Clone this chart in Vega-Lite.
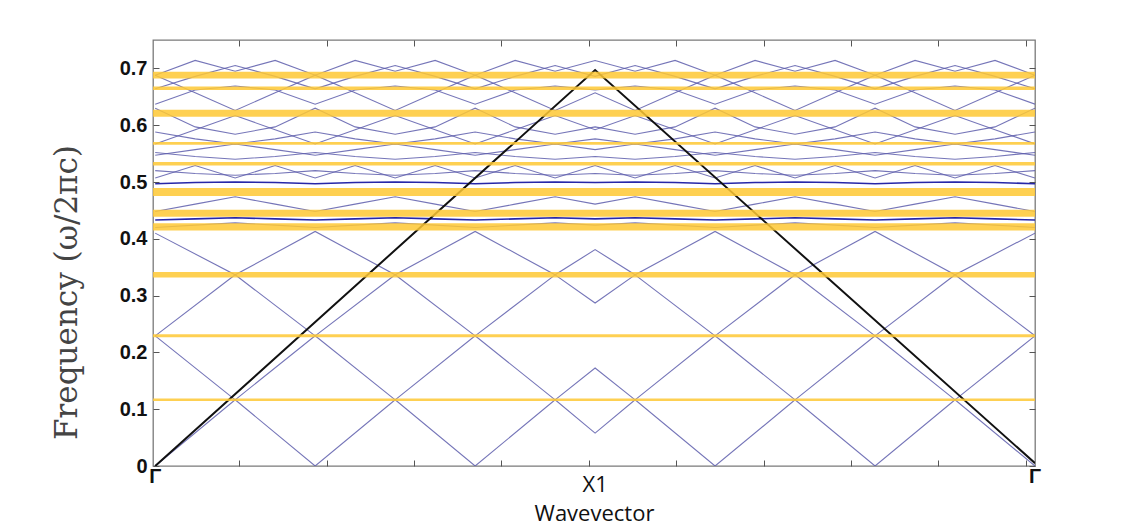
{
  "$schema": "https://vega.github.io/schema/vega-lite/v6.json",
  "width": 882,
  "height": 426,
  "autosize": {"type": "none"},
  "padding": {"left": 153, "top": 40, "right": 91, "bottom": 61},
  "background": "white",
  "config": {"view": {"stroke": "#7a7a7a", "strokeWidth": 1.3}},
  "datasets": {
    "low": [
      {"b":"b1","x":0,"y":0},{"b":"b1","x":0.1818,"y":0.1165},{"b":"b1","x":0.3636,"y":0},{"b":"b1","x":0.5455,"y":0.1165},{"b":"b1","x":0.7273,"y":0},{"b":"b1","x":0.9091,"y":0.1165},{"b":"b1","x":1,"y":0.058},{"b":"b1","x":1.0909,"y":0.1165},{"b":"b1","x":1.2727,"y":0},{"b":"b1","x":1.4545,"y":0.1165},{"b":"b1","x":1.6364,"y":0},{"b":"b1","x":1.8182,"y":0.1165},{"b":"b1","x":2,"y":0},
      {"b":"b2","x":0,"y":0.2292},{"b":"b2","x":0.1818,"y":0.1165},{"b":"b2","x":0.3636,"y":0.2292},{"b":"b2","x":0.5455,"y":0.1165},{"b":"b2","x":0.7273,"y":0.2292},{"b":"b2","x":0.9091,"y":0.1165},{"b":"b2","x":1,"y":0.1725},{"b":"b2","x":1.0909,"y":0.1165},{"b":"b2","x":1.2727,"y":0.2292},{"b":"b2","x":1.4545,"y":0.1165},{"b":"b2","x":1.6364,"y":0.2292},{"b":"b2","x":1.8182,"y":0.1165},{"b":"b2","x":2,"y":0.2292},
      {"b":"b3","x":0,"y":0.2292},{"b":"b3","x":0.1818,"y":0.3366},{"b":"b3","x":0.3636,"y":0.2292},{"b":"b3","x":0.5455,"y":0.3366},{"b":"b3","x":0.7273,"y":0.2292},{"b":"b3","x":0.9091,"y":0.3366},{"b":"b3","x":1,"y":0.287},{"b":"b3","x":1.0909,"y":0.3366},{"b":"b3","x":1.2727,"y":0.2292},{"b":"b3","x":1.4545,"y":0.3366},{"b":"b3","x":1.6364,"y":0.2292},{"b":"b3","x":1.8182,"y":0.3366},{"b":"b3","x":2,"y":0.2292},
      {"b":"b4","x":0,"y":0.41},{"b":"b4","x":0.1818,"y":0.3366},{"b":"b4","x":0.3636,"y":0.413},{"b":"b4","x":0.5455,"y":0.3366},{"b":"b4","x":0.7273,"y":0.413},{"b":"b4","x":0.9091,"y":0.3366},{"b":"b4","x":1,"y":0.381},{"b":"b4","x":1.0909,"y":0.3366},{"b":"b4","x":1.2727,"y":0.413},{"b":"b4","x":1.4545,"y":0.3366},{"b":"b4","x":1.6364,"y":0.413},{"b":"b4","x":1.8182,"y":0.3366},{"b":"b4","x":2,"y":0.41}
    ],
    "up": [
      {"b":"T","x":0,"y":0.688},{"b":"T","x":0.0909,"y":0.714},{"b":"T","x":0.1818,"y":0.695},{"b":"T","x":0.2727,"y":0.714},{"b":"T","x":0.3636,"y":0.688},{"b":"T","x":0.4545,"y":0.714},{"b":"T","x":0.5455,"y":0.695},{"b":"T","x":0.6364,"y":0.714},{"b":"T","x":0.7273,"y":0.688},{"b":"T","x":0.8182,"y":0.714},{"b":"T","x":0.9091,"y":0.695},{"b":"T","x":1,"y":0.714},{"b":"T","x":1.0909,"y":0.695},{"b":"T","x":1.1818,"y":0.714},{"b":"T","x":1.2727,"y":0.688},{"b":"T","x":1.3636,"y":0.714},{"b":"T","x":1.4545,"y":0.695},{"b":"T","x":1.5455,"y":0.714},{"b":"T","x":1.6364,"y":0.688},{"b":"T","x":1.7273,"y":0.714},{"b":"T","x":1.8182,"y":0.695},{"b":"T","x":1.9091,"y":0.714},{"b":"T","x":2,"y":0.688},
      {"b":"H1","x":0,"y":0.664},{"b":"H1","x":0.0909,"y":0.686},{"b":"H1","x":0.1818,"y":0.705},{"b":"H1","x":0.2727,"y":0.686},{"b":"H1","x":0.3636,"y":0.664},{"b":"H1","x":0.4545,"y":0.686},{"b":"H1","x":0.5455,"y":0.705},{"b":"H1","x":0.6364,"y":0.686},{"b":"H1","x":0.7273,"y":0.664},{"b":"H1","x":0.8182,"y":0.686},{"b":"H1","x":0.9091,"y":0.705},{"b":"H1","x":1,"y":0.686},{"b":"H1","x":1.0909,"y":0.705},{"b":"H1","x":1.1818,"y":0.686},{"b":"H1","x":1.2727,"y":0.664},{"b":"H1","x":1.3636,"y":0.686},{"b":"H1","x":1.4545,"y":0.705},{"b":"H1","x":1.5455,"y":0.686},{"b":"H1","x":1.6364,"y":0.664},{"b":"H1","x":1.7273,"y":0.686},{"b":"H1","x":1.8182,"y":0.705},{"b":"H1","x":1.9091,"y":0.686},{"b":"H1","x":2,"y":0.664},
      {"b":"U1","x":0,"y":0.637},{"b":"U1","x":0.0909,"y":0.662},{"b":"U1","x":0.1818,"y":0.669},{"b":"U1","x":0.2727,"y":0.662},{"b":"U1","x":0.3636,"y":0.637},{"b":"U1","x":0.4545,"y":0.662},{"b":"U1","x":0.5455,"y":0.669},{"b":"U1","x":0.6364,"y":0.662},{"b":"U1","x":0.7273,"y":0.637},{"b":"U1","x":0.8182,"y":0.662},{"b":"U1","x":0.9091,"y":0.669},{"b":"U1","x":1,"y":0.662},{"b":"U1","x":1.0909,"y":0.669},{"b":"U1","x":1.1818,"y":0.662},{"b":"U1","x":1.2727,"y":0.637},{"b":"U1","x":1.3636,"y":0.662},{"b":"U1","x":1.4545,"y":0.669},{"b":"U1","x":1.5455,"y":0.662},{"b":"U1","x":1.6364,"y":0.637},{"b":"U1","x":1.7273,"y":0.662},{"b":"U1","x":1.8182,"y":0.669},{"b":"U1","x":1.9091,"y":0.662},{"b":"U1","x":2,"y":0.637},
      {"b":"U2","x":0,"y":0.688},{"b":"U2","x":0.0909,"y":0.657},{"b":"U2","x":0.1818,"y":0.626},{"b":"U2","x":0.2727,"y":0.657},{"b":"U2","x":0.3636,"y":0.688},{"b":"U2","x":0.4545,"y":0.657},{"b":"U2","x":0.5455,"y":0.626},{"b":"U2","x":0.6364,"y":0.657},{"b":"U2","x":0.7273,"y":0.688},{"b":"U2","x":0.8182,"y":0.657},{"b":"U2","x":0.9091,"y":0.626},{"b":"U2","x":1,"y":0.657},{"b":"U2","x":1.0909,"y":0.626},{"b":"U2","x":1.1818,"y":0.657},{"b":"U2","x":1.2727,"y":0.688},{"b":"U2","x":1.3636,"y":0.657},{"b":"U2","x":1.4545,"y":0.626},{"b":"U2","x":1.5455,"y":0.657},{"b":"U2","x":1.6364,"y":0.688},{"b":"U2","x":1.7273,"y":0.657},{"b":"U2","x":1.8182,"y":0.626},{"b":"U2","x":1.9091,"y":0.657},{"b":"U2","x":2,"y":0.688},
      {"b":"U3","x":0,"y":0.63},{"b":"U3","x":0.0909,"y":0.597},{"b":"U3","x":0.1818,"y":0.584},{"b":"U3","x":0.2727,"y":0.597},{"b":"U3","x":0.3636,"y":0.63},{"b":"U3","x":0.4545,"y":0.597},{"b":"U3","x":0.5455,"y":0.584},{"b":"U3","x":0.6364,"y":0.597},{"b":"U3","x":0.7273,"y":0.63},{"b":"U3","x":0.8182,"y":0.597},{"b":"U3","x":0.9091,"y":0.584},{"b":"U3","x":1,"y":0.597},{"b":"U3","x":1.0909,"y":0.584},{"b":"U3","x":1.1818,"y":0.597},{"b":"U3","x":1.2727,"y":0.63},{"b":"U3","x":1.3636,"y":0.597},{"b":"U3","x":1.4545,"y":0.584},{"b":"U3","x":1.5455,"y":0.597},{"b":"U3","x":1.6364,"y":0.63},{"b":"U3","x":1.7273,"y":0.597},{"b":"U3","x":1.8182,"y":0.584},{"b":"U3","x":1.9091,"y":0.597},{"b":"U3","x":2,"y":0.63},
      {"b":"U5","x":0,"y":0.567},{"b":"U5","x":0.0909,"y":0.592},{"b":"U5","x":0.1818,"y":0.617},{"b":"U5","x":0.2727,"y":0.592},{"b":"U5","x":0.3636,"y":0.567},{"b":"U5","x":0.4545,"y":0.592},{"b":"U5","x":0.5455,"y":0.617},{"b":"U5","x":0.6364,"y":0.592},{"b":"U5","x":0.7273,"y":0.567},{"b":"U5","x":0.8182,"y":0.592},{"b":"U5","x":0.9091,"y":0.617},{"b":"U5","x":1,"y":0.592},{"b":"U5","x":1.0909,"y":0.617},{"b":"U5","x":1.1818,"y":0.592},{"b":"U5","x":1.2727,"y":0.567},{"b":"U5","x":1.3636,"y":0.592},{"b":"U5","x":1.4545,"y":0.617},{"b":"U5","x":1.5455,"y":0.592},{"b":"U5","x":1.6364,"y":0.567},{"b":"U5","x":1.7273,"y":0.592},{"b":"U5","x":1.8182,"y":0.617},{"b":"U5","x":1.9091,"y":0.592},{"b":"U5","x":2,"y":0.567},
      {"b":"U7","x":0,"y":0.588},{"b":"U7","x":0.0909,"y":0.576},{"b":"U7","x":0.1818,"y":0.567},{"b":"U7","x":0.2727,"y":0.576},{"b":"U7","x":0.3636,"y":0.588},{"b":"U7","x":0.4545,"y":0.576},{"b":"U7","x":0.5455,"y":0.567},{"b":"U7","x":0.6364,"y":0.576},{"b":"U7","x":0.7273,"y":0.588},{"b":"U7","x":0.8182,"y":0.576},{"b":"U7","x":0.9091,"y":0.567},{"b":"U7","x":1,"y":0.576},{"b":"U7","x":1.0909,"y":0.567},{"b":"U7","x":1.1818,"y":0.576},{"b":"U7","x":1.2727,"y":0.588},{"b":"U7","x":1.3636,"y":0.576},{"b":"U7","x":1.4545,"y":0.567},{"b":"U7","x":1.5455,"y":0.576},{"b":"U7","x":1.6364,"y":0.588},{"b":"U7","x":1.7273,"y":0.576},{"b":"U7","x":1.8182,"y":0.567},{"b":"U7","x":1.9091,"y":0.576},{"b":"U7","x":2,"y":0.588},
      {"b":"U6","x":0,"y":0.547},{"b":"U6","x":0.0909,"y":0.557},{"b":"U6","x":0.1818,"y":0.567},{"b":"U6","x":0.2727,"y":0.557},{"b":"U6","x":0.3636,"y":0.547},{"b":"U6","x":0.4545,"y":0.557},{"b":"U6","x":0.5455,"y":0.567},{"b":"U6","x":0.6364,"y":0.557},{"b":"U6","x":0.7273,"y":0.547},{"b":"U6","x":0.8182,"y":0.557},{"b":"U6","x":0.9091,"y":0.567},{"b":"U6","x":1,"y":0.557},{"b":"U6","x":1.0909,"y":0.567},{"b":"U6","x":1.1818,"y":0.557},{"b":"U6","x":1.2727,"y":0.547},{"b":"U6","x":1.3636,"y":0.557},{"b":"U6","x":1.4545,"y":0.567},{"b":"U6","x":1.5455,"y":0.557},{"b":"U6","x":1.6364,"y":0.547},{"b":"U6","x":1.7273,"y":0.557},{"b":"U6","x":1.8182,"y":0.567},{"b":"U6","x":1.9091,"y":0.557},{"b":"U6","x":2,"y":0.547},
      {"b":"W4","x":0,"y":0.552},{"b":"W4","x":0.0909,"y":0.545},{"b":"W4","x":0.1818,"y":0.54},{"b":"W4","x":0.2727,"y":0.545},{"b":"W4","x":0.3636,"y":0.552},{"b":"W4","x":0.4545,"y":0.545},{"b":"W4","x":0.5455,"y":0.54},{"b":"W4","x":0.6364,"y":0.545},{"b":"W4","x":0.7273,"y":0.552},{"b":"W4","x":0.8182,"y":0.545},{"b":"W4","x":0.9091,"y":0.54},{"b":"W4","x":1,"y":0.545},{"b":"W4","x":1.0909,"y":0.54},{"b":"W4","x":1.1818,"y":0.545},{"b":"W4","x":1.2727,"y":0.552},{"b":"W4","x":1.3636,"y":0.545},{"b":"W4","x":1.4545,"y":0.54},{"b":"W4","x":1.5455,"y":0.545},{"b":"W4","x":1.6364,"y":0.552},{"b":"W4","x":1.7273,"y":0.545},{"b":"W4","x":1.8182,"y":0.54},{"b":"W4","x":1.9091,"y":0.545},{"b":"W4","x":2,"y":0.552},
      {"b":"W2","x":0,"y":0.507},{"b":"W2","x":0.0909,"y":0.529},{"b":"W2","x":0.1818,"y":0.507},{"b":"W2","x":0.2727,"y":0.529},{"b":"W2","x":0.3636,"y":0.507},{"b":"W2","x":0.4545,"y":0.529},{"b":"W2","x":0.5455,"y":0.507},{"b":"W2","x":0.6364,"y":0.529},{"b":"W2","x":0.7273,"y":0.507},{"b":"W2","x":0.8182,"y":0.529},{"b":"W2","x":0.9091,"y":0.507},{"b":"W2","x":1,"y":0.529},{"b":"W2","x":1.0909,"y":0.507},{"b":"W2","x":1.1818,"y":0.529},{"b":"W2","x":1.2727,"y":0.507},{"b":"W2","x":1.3636,"y":0.529},{"b":"W2","x":1.4545,"y":0.507},{"b":"W2","x":1.5455,"y":0.529},{"b":"W2","x":1.6364,"y":0.507},{"b":"W2","x":1.7273,"y":0.529},{"b":"W2","x":1.8182,"y":0.507},{"b":"W2","x":1.9091,"y":0.529},{"b":"W2","x":2,"y":0.507},
      {"b":"W5","x":0,"y":0.52},{"b":"W5","x":0.0909,"y":0.515},{"b":"W5","x":0.1818,"y":0.512},{"b":"W5","x":0.2727,"y":0.515},{"b":"W5","x":0.3636,"y":0.52},{"b":"W5","x":0.4545,"y":0.515},{"b":"W5","x":0.5455,"y":0.512},{"b":"W5","x":0.6364,"y":0.515},{"b":"W5","x":0.7273,"y":0.52},{"b":"W5","x":0.8182,"y":0.515},{"b":"W5","x":0.9091,"y":0.512},{"b":"W5","x":1,"y":0.515},{"b":"W5","x":1.0909,"y":0.512},{"b":"W5","x":1.1818,"y":0.515},{"b":"W5","x":1.2727,"y":0.52},{"b":"W5","x":1.3636,"y":0.515},{"b":"W5","x":1.4545,"y":0.512},{"b":"W5","x":1.5455,"y":0.515},{"b":"W5","x":1.6364,"y":0.52},{"b":"W5","x":1.7273,"y":0.515},{"b":"W5","x":1.8182,"y":0.512},{"b":"W5","x":1.9091,"y":0.515},{"b":"W5","x":2,"y":0.52},
      {"b":"W1","x":0,"y":0.448},{"b":"W1","x":0.0909,"y":0.461},{"b":"W1","x":0.1818,"y":0.474},{"b":"W1","x":0.2727,"y":0.461},{"b":"W1","x":0.3636,"y":0.448},{"b":"W1","x":0.4545,"y":0.461},{"b":"W1","x":0.5455,"y":0.474},{"b":"W1","x":0.6364,"y":0.461},{"b":"W1","x":0.7273,"y":0.448},{"b":"W1","x":0.8182,"y":0.461},{"b":"W1","x":0.9091,"y":0.474},{"b":"W1","x":1,"y":0.461},{"b":"W1","x":1.0909,"y":0.474},{"b":"W1","x":1.1818,"y":0.461},{"b":"W1","x":1.2727,"y":0.448},{"b":"W1","x":1.3636,"y":0.461},{"b":"W1","x":1.4545,"y":0.474},{"b":"W1","x":1.5455,"y":0.461},{"b":"W1","x":1.6364,"y":0.448},{"b":"W1","x":1.7273,"y":0.461},{"b":"W1","x":1.8182,"y":0.474},{"b":"W1","x":1.9091,"y":0.461},{"b":"W1","x":2,"y":0.448},
      {"b":"B5","x":0,"y":0.42},{"b":"B5","x":0.0909,"y":0.424},{"b":"B5","x":0.1818,"y":0.428},{"b":"B5","x":0.2727,"y":0.424},{"b":"B5","x":0.3636,"y":0.42},{"b":"B5","x":0.4545,"y":0.424},{"b":"B5","x":0.5455,"y":0.428},{"b":"B5","x":0.6364,"y":0.424},{"b":"B5","x":0.7273,"y":0.42},{"b":"B5","x":0.8182,"y":0.424},{"b":"B5","x":0.9091,"y":0.428},{"b":"B5","x":1,"y":0.424},{"b":"B5","x":1.0909,"y":0.428},{"b":"B5","x":1.1818,"y":0.424},{"b":"B5","x":1.2727,"y":0.42},{"b":"B5","x":1.3636,"y":0.424},{"b":"B5","x":1.4545,"y":0.428},{"b":"B5","x":1.5455,"y":0.424},{"b":"B5","x":1.6364,"y":0.42},{"b":"B5","x":1.7273,"y":0.424},{"b":"B5","x":1.8182,"y":0.428},{"b":"B5","x":1.9091,"y":0.424},{"b":"B5","x":2,"y":0.42}
    ],
    "dark": [
      {"b":"D2","x":0,"y":0.497},{"b":"D2","x":0.0909,"y":0.499},{"b":"D2","x":0.1818,"y":0.5},{"b":"D2","x":0.2727,"y":0.499},{"b":"D2","x":0.3636,"y":0.497},{"b":"D2","x":0.4545,"y":0.499},{"b":"D2","x":0.5455,"y":0.5},{"b":"D2","x":0.6364,"y":0.499},{"b":"D2","x":0.7273,"y":0.497},{"b":"D2","x":0.8182,"y":0.499},{"b":"D2","x":0.9091,"y":0.5},{"b":"D2","x":1,"y":0.499},{"b":"D2","x":1.0909,"y":0.5},{"b":"D2","x":1.1818,"y":0.499},{"b":"D2","x":1.2727,"y":0.497},{"b":"D2","x":1.3636,"y":0.499},{"b":"D2","x":1.4545,"y":0.5},{"b":"D2","x":1.5455,"y":0.499},{"b":"D2","x":1.6364,"y":0.497},{"b":"D2","x":1.7273,"y":0.499},{"b":"D2","x":1.8182,"y":0.5},{"b":"D2","x":1.9091,"y":0.499},{"b":"D2","x":2,"y":0.497},
      {"b":"D1","x":0,"y":0.433},{"b":"D1","x":0.0909,"y":0.435},{"b":"D1","x":0.1818,"y":0.437},{"b":"D1","x":0.2727,"y":0.435},{"b":"D1","x":0.3636,"y":0.433},{"b":"D1","x":0.4545,"y":0.435},{"b":"D1","x":0.5455,"y":0.437},{"b":"D1","x":0.6364,"y":0.435},{"b":"D1","x":0.7273,"y":0.433},{"b":"D1","x":0.8182,"y":0.435},{"b":"D1","x":0.9091,"y":0.437},{"b":"D1","x":1,"y":0.435},{"b":"D1","x":1.0909,"y":0.437},{"b":"D1","x":1.1818,"y":0.435},{"b":"D1","x":1.2727,"y":0.433},{"b":"D1","x":1.3636,"y":0.435},{"b":"D1","x":1.4545,"y":0.437},{"b":"D1","x":1.5455,"y":0.435},{"b":"D1","x":1.6364,"y":0.433},{"b":"D1","x":1.7273,"y":0.435},{"b":"D1","x":1.8182,"y":0.437},{"b":"D1","x":1.9091,"y":0.435},{"b":"D1","x":2,"y":0.433}
    ],
    "lightline": [
      {"x":0,"y":0},{"x":1,"y":0.697},{"x":2,"y":0.005}
    ],
    "gaps": [
      {"lo":0.6821,"hi":0.6939},
      {"lo":0.6619,"hi":0.6681},
      {"lo":0.6148,"hi":0.6272},
      {"lo":0.5654,"hi":0.5706},
      {"lo":0.5289,"hi":0.5351},
      {"lo":0.4754,"hi":0.4894},
      {"lo":0.4388,"hi":0.4512},
      {"lo":0.4145,"hi":0.4275},
      {"lo":0.3318,"hi":0.3414},
      {"lo":0.2266,"hi":0.2318},
      {"lo":0.1143,"hi":0.1187}
    ],
    "gam": [
      {"x":0,"lab":"Γ"},{"x":2,"lab":"Γ"}
    ],
    "xl": [
      {"x":1,"lab":"X1"}
    ]
  },
  "resolve": {"axis": {"x": "independent", "y": "independent"}},
  "layer": [
    {
      "data": {"name": "low"},
      "mark": {"type": "line", "stroke": "#5d5dab", "strokeWidth": 1.1, "opacity": 0.85, "clip": true},
      "encoding": {
        "x": {"field": "x", "type": "quantitative",
              "scale": {"domain": [-0.005, 2.0], "nice": false, "zero": false},
              "axis": {"values": [0.191,0.39,0.588,0.787,0.986,1.184,1.383,1.581,1.78,1.979],
                       "labels": false, "domain": false, "grid": false, "tickSize": -6, "tickColor": "#555",
                       "title": "Wavevector", "titleFont": "Open Sans", "titleFontSize": 22, "titleFontWeight": "normal",
                       "titleColor": "#111", "titleY": 54, "titleBaseline": "alphabetic"}},
        "y": {"field": "y", "type": "quantitative",
              "scale": {"domain": [0, 0.75], "nice": false, "zero": false},
              "axis": {"values": [0,0.1,0.2,0.3,0.4,0.5,0.6,0.7], "format": ".1~f",
                       "domain": false, "grid": false, "tickSize": -6, "tickColor": "#555",
                       "labelFont": "Liberation Sans", "labelFontWeight": "bold", "labelFontSize": 20, "labelColor": "#111",
                       "labelPadding": 12,
                       "title": "Frequency (ω/2πc)", "titleFont": "DejaVu Serif", "titleFontSize": 31, "titleFontWeight": "normal",
                       "titleColor": "#444", "titleX": -86, "titleY": 252, "titleAlign": "center", "titleBaseline": "middle"}},
        "detail": {"field": "b"}
      }
    },
    {
      "data": {"name": "up"},
      "mark": {"type": "line", "stroke": "#5d5dab", "strokeWidth": 1.1, "opacity": 0.85, "clip": true},
      "encoding": {
        "x": {"field": "x", "type": "quantitative", "axis": null},
        "y": {"field": "y", "type": "quantitative", "axis": null},
        "detail": {"field": "b"}
      }
    },
    {
      "data": {"name": "dark"},
      "mark": {"type": "line", "stroke": "#2727a8", "strokeWidth": 1.6, "clip": true},
      "encoding": {
        "x": {"field": "x", "type": "quantitative", "axis": null},
        "y": {"field": "y", "type": "quantitative", "axis": null},
        "detail": {"field": "b"}
      }
    },
    {
      "data": {"name": "lightline"},
      "mark": {"type": "line", "stroke": "#111111", "strokeWidth": 2, "clip": true},
      "encoding": {
        "x": {"field": "x", "type": "quantitative",
              "axis": {"orient": "top", "values": [0.191,0.39,0.588,0.787,0.986,1.184,1.383,1.581,1.78,1.979],
                       "labels": false, "domain": false, "grid": false, "tickSize": -6, "tickColor": "#555", "title": null}},
        "y": {"field": "y", "type": "quantitative",
              "axis": {"orient": "right", "values": [0,0.1,0.2,0.3,0.4,0.5,0.6,0.7],
                       "labels": false, "domain": false, "grid": false, "tickSize": -6, "tickColor": "#555", "title": null}}
      }
    },
    {
      "data": {"name": "gaps"},
      "mark": {"type": "rect", "color": "#fec834", "opacity": 0.85, "clip": true},
      "encoding": {
        "x": {"datum": -0.005, "type": "quantitative", "axis": null},
        "x2": {"datum": 2.0},
        "y": {"field": "lo", "type": "quantitative", "axis": null},
        "y2": {"field": "hi"}
      }
    },
    {
      "data": {"name": "gam"},
      "mark": {"type": "text", "font": "Liberation Sans", "fontWeight": "bold", "fontSize": 20, "color": "#111", "baseline": "alphabetic", "align": "center", "dy": 17},
      "encoding": {
        "x": {"field": "x", "type": "quantitative", "axis": null},
        "y": {"datum": 0, "type": "quantitative", "axis": null},
        "text": {"field": "lab"}
      }
    },
    {
      "data": {"name": "xl"},
      "mark": {"type": "text", "font": "Open Sans", "fontSize": 22, "color": "#111", "baseline": "alphabetic", "align": "center", "dy": 26},
      "encoding": {
        "x": {"field": "x", "type": "quantitative", "axis": null},
        "y": {"datum": 0, "type": "quantitative", "axis": null},
        "text": {"field": "lab"}
      }
    }
  ]
}
